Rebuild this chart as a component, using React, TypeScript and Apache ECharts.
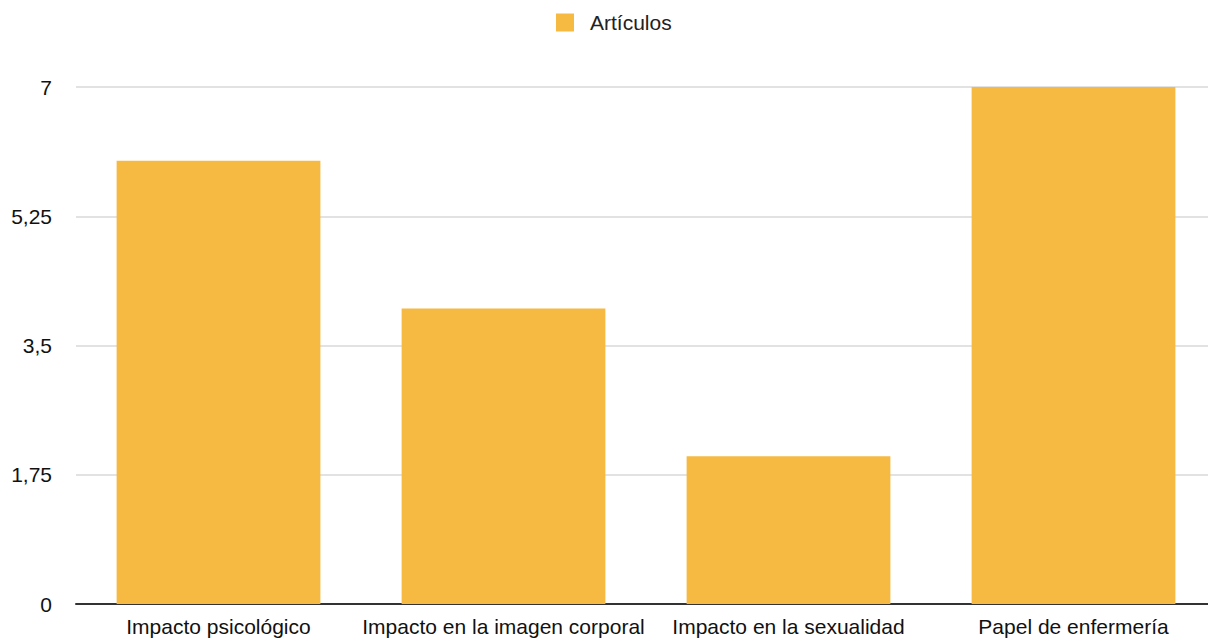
import React, { useEffect, useRef } from "react";
import * as echarts from "echarts";

const categories = [
  "Impacto psicológico",
  "Impacto en la imagen corporal",
  "Impacto en la sexualidad",
  "Papel de enfermería",
];
const seriesName = "Artículos";
const articleCounts = [6, 4, 2, 7];
const yTickLabels: Record<string, string> = {
  "0": "0",
  "1.75": "1,75",
  "3.5": "3,5",
  "5.25": "5,25",
  "7": "7",
};

const FONT = "'Liberation Sans', Arial, Helvetica, sans-serif";
const FONT_SIZE = 21;

export default function App() {
  const ref = useRef<HTMLDivElement>(null);

  useEffect(() => {
    if (!ref.current) return;
    const chart = echarts.init(ref.current, undefined, { renderer: "svg" });
    chart.setOption({
      animation: false,
      textStyle: { fontFamily: FONT },
      legend: {
        top: 7,
        left: 551,
        itemWidth: 18,
        itemHeight: 18,
        itemGap: 17,
        icon: "rect",
        textStyle: { fontSize: FONT_SIZE, color: "#222", fontFamily: FONT, padding: [0, 0, 0, 11] },
        data: [seriesName],
      },
      grid: { left: 76, right: 0, top: 87, bottom: 35, containLabel: false },
      xAxis: {
        type: "category",
        data: categories,
        axisLine: { lineStyle: { color: "#333", width: 2 } },
        axisTick: { show: false },
        axisLabel: {
          fontSize: FONT_SIZE,
          color: "#111",
          margin: 12,
          interval: 0,
          fontFamily: FONT,
        },
      },
      yAxis: {
        type: "value",
        min: 0,
        max: 7,
        interval: 1.75,
        axisLine: { show: false },
        axisTick: { show: false },
        splitLine: { lineStyle: { color: "#d9d9d9", width: 1.5 } },
        axisLabel: {
          fontSize: FONT_SIZE,
          color: "#111",
          margin: 24,
          fontFamily: FONT,
          formatter: (v: number) => yTickLabels[String(v)] ?? String(v).replace(".", ","),
        },
      },
      series: [
        {
          name: seriesName,
          type: "bar",
          data: articleCounts,
          barCategoryGap: "28.5%",
          itemStyle: { color: "#F6BA43" },
        },
      ],
    });
    return () => chart.dispose();
  }, []);

  return <div ref={ref} style={{ width: 1216, height: 639, marginLeft: -8, marginTop: -8 }} />;
}
